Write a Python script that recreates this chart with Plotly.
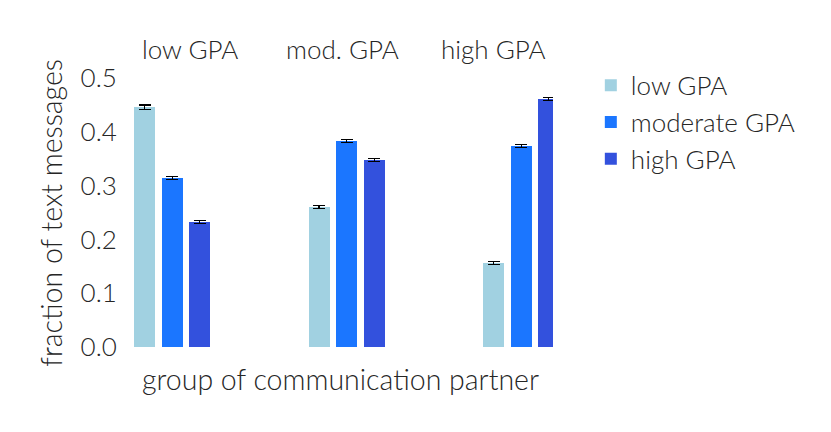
import plotly.graph_objects as go

groups = ["low GPA", "mod. GPA", "high GPA"]
group_pos = [0, 1, 2]
series_names = ["low GPA", "moderate GPA", "high GPA"]
values_low = [0.446, 0.260, 0.156]
values_mod = [0.314, 0.383, 0.374]
values_high = [0.232, 0.348, 0.461]
err_low = [0.004, 0.003, 0.003]
err_mod = [0.003, 0.003, 0.003]
err_high = [0.003, 0.003, 0.003]
y_ticks = [0.0, 0.1, 0.2, 0.3, 0.4, 0.5]

colors = ["#a1d1e1", "#1b76ff", "#3351dd"]
offsets = [-0.215, -0.057, 0.101]
FONT = "Lato, 'Open Sans', sans-serif"
TXT = "#262626"
FS = 26

fig = go.Figure()
for name, vals, errs, col, off in zip(series_names,
                                       [values_low, values_mod, values_high],
                                       [err_low, err_mod, err_high],
                                       colors, offsets):
    fig.add_trace(go.Bar(
        x=group_pos, y=vals, name=name,
        marker=dict(color=col, line=dict(width=0)),
        width=0.12, offset=off,
        error_y=dict(type="data", array=errs, color="black", thickness=1.3, width=6),
    ))

fig.update_layout(
    width=831, height=432,
    margin=dict(l=120, r=286, t=70, b=93, autoexpand=False),
    plot_bgcolor="white", paper_bgcolor="white",
    font=dict(family=FONT, size=FS, color=TXT, weight=300),
    showlegend=True,
    legend=dict(x=1.089, y=1.06, xanchor="left", yanchor="top",
                font=dict(size=FS, color=TXT, family=FONT, weight=300),
                itemwidth=30, tracegroupgap=0, bgcolor="rgba(0,0,0,0)"),
    xaxis=dict(range=[-0.25, 2.185], showticklabels=False, showgrid=False,
               zeroline=False, showline=False, ticks=""),
    yaxis=dict(range=[0, 0.5], tickvals=y_ticks, tickformat=".1f",
               showgrid=False, zeroline=False, showline=False,
               ticks="outside", ticklen=5, tickcolor="rgba(0,0,0,0)",
               tickfont=dict(size=FS, color=TXT, family=FONT, weight=300)),
    bargap=0,
)

group_x = [0.146, 0.504, 0.859]
for g, gx in zip(groups, group_x):
    fig.add_annotation(text=g, x=gx, y=1.107, xref="paper", yref="paper",
                       showarrow=False, xanchor="center", yanchor="middle",
                       font=dict(size=FS, color=TXT, family=FONT, weight=300))

fig.add_annotation(text="group of communication partner", x=0.5, y=-0.12,
                   xref="paper", yref="paper", showarrow=False,
                   xanchor="center", yanchor="middle",
                   font=dict(size=28.5, color=TXT, family=FONT, weight=300))
fig.add_annotation(text="fraction of text messages", x=-0.183, y=0.5,
                   xref="paper", yref="paper", showarrow=False, textangle=-90,
                   xanchor="center", yanchor="middle",
                   font=dict(size=28.5, color=TXT, family=FONT, weight=300))

fig.write_html("out.html")
